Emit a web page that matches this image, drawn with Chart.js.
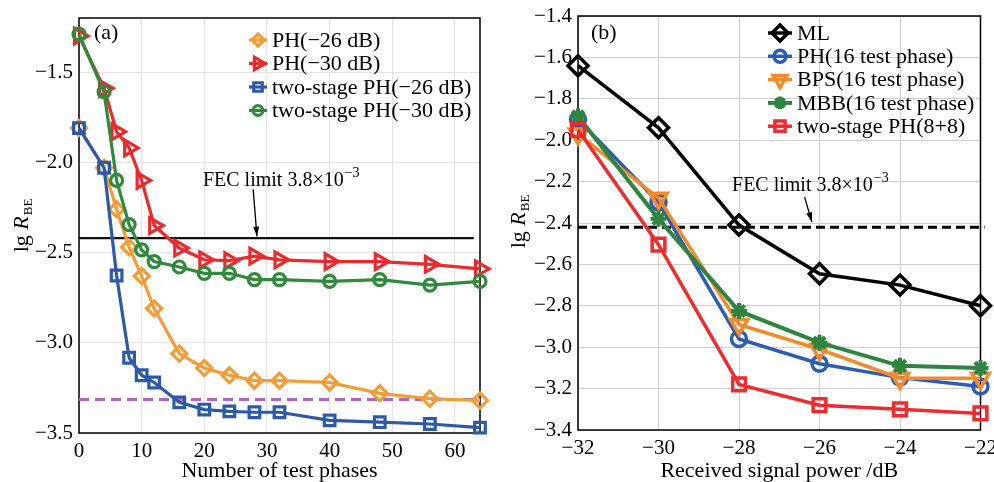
<!DOCTYPE html>
<html>
<head>
<meta charset="utf-8">
<script src="https://cdn.jsdelivr.net/npm/chart.js@4.4.0/dist/chart.umd.min.js"></script>
<style>
  body { margin: 0; background: #fff; }
  #wrapA { position: absolute; left: 0; top: 0; }
  #wrapB { position: absolute; left: 494px; top: 0; }
</style>
</head>
<body>
<div id="wrapA"><canvas id="chartA" width="494" height="482"></canvas></div>
<div id="wrapB"><canvas id="chartB" width="500" height="482"></canvas></div>
<script>
const FONT = "'Liberation Serif', 'Times New Roman', serif";

// ---- panel (a) data ----
const phasesA = [0, 4, 6, 8, 10, 12, 16, 20, 24, 28, 32, 40, 48, 56, 64];
const ph26 = [-1.81, -2.03, -2.26, -2.47, -2.63, -2.81, -3.06, -3.14, -3.18, -3.21, -3.21, -3.22, -3.28, -3.31, -3.32];
const ph30 = [-1.30, -1.59, -1.83, -1.92, -2.10, -2.35, -2.475, -2.54, -2.545, -2.52, -2.54, -2.55, -2.55, -2.565, -2.59];
const twoStage26 = [-1.81, -2.03, -2.627, -3.083, -3.18, -3.22, -3.33, -3.37, -3.38, -3.385, -3.385, -3.43, -3.44, -3.45, -3.47];
const twoStage30 = [-1.29, -1.61, -2.10, -2.345, -2.485, -2.55, -2.58, -2.615, -2.615, -2.65, -2.65, -2.66, -2.65, -2.68, -2.66];
const fecLimitA = -2.42;
const fecSpanA = [0, 63];
const purpleLevel = -3.315;
const purpleSpan = [0, 64];
const xTicksA = [0, 10, 20, 30, 40, 50, 60];
const yTicksA = [-3.5, -3.0, -2.5, -2.0, -1.5];

// ---- panel (b) data ----
const powerB = [-32, -30, -28, -26, -24, -22];
const mlB = [-1.64, -1.94, -2.41, -2.645, -2.70, -2.80];
const phB = [-1.90, -2.30, -2.96, -3.08, -3.147, -3.19];
const bpsB = [-1.97, -2.28, -2.89, -3.01, -3.15, -3.15];
const mbbB = [-1.885, -2.38, -2.825, -2.978, -3.09, -3.10];
const twoStageB = [-1.95, -2.505, -3.18, -3.28, -3.30, -3.32];
const fecLimitB = -2.42;
const fecSpanB = [-32, -21.9];
const xTicksB = [-32, -30, -28, -26, -24, -22];
const yTicksB = [-3.4, -3.2, -3.0, -2.8, -2.6, -2.4, -2.2, -2.0, -1.8, -1.6, -1.4];

const pts = (xs, ys) => xs.map((x, i) => ({ x: x, y: ys[i] }));
const minus = s => String(s).replace('-', '\u2212');

function series(label, xs, ys, color, style, radius, rot, order, lw) {
    return {
        label: label,
        data: pts(xs, ys),
        borderColor: color,
        backgroundColor: color,
        borderWidth: lw,
        pointStyle: style,
        pointRadius: radius,
        pointRotation: rot,
        pointBorderWidth: lw,
        pointBorderColor: color,
        pointBackgroundColor: 'rgba(255,255,255,0)',
        tension: 0,
        clip: false,
        order: order
    };
}

function refLine(xs, level, color, dash, lw) {
    return {
        label: '',
        noLegend: true,
        data: xs.map(x => ({ x: x, y: level })),
        borderColor: color,
        borderWidth: lw,
        borderDash: dash,
        pointRadius: 0,
        clip: false,
        order: 10
    };
}

// legend with line + marker
const lineLegend = {
    id: 'lineLegend',
    afterDraw(chart, args, o) {
        const ctx = chart.ctx;
        const a = chart.chartArea;
        let y = a.top + o.dy;
        ctx.save();
        ctx.font = o.font;
        ctx.textBaseline = 'middle';
        chart.data.datasets.forEach(ds => {
            if (ds.noLegend) return;
            const x0 = a.left + o.dx;
            ctx.setLineDash([]);
            ctx.strokeStyle = ds.borderColor;
            ctx.lineWidth = ds.borderWidth;
            ctx.beginPath();
            ctx.moveTo(x0, y);
            ctx.lineTo(x0 + o.lineLen, y);
            ctx.stroke();
            ctx.fillStyle = 'rgba(255,255,255,0)';
            Chart.helpers.drawPoint(ctx, {
                pointStyle: ds.pointStyle,
                rotation: ds.pointRotation || 0,
                radius: ds.pointRadius * o.scale,
                borderWidth: ds.pointBorderWidth
            }, x0 + o.lineLen / 2, y);
            ctx.fillStyle = '#000';
            ctx.fillText(ds.label.replace('(-', '(\u2212'), x0 + o.lineLen + o.gap, y + 1);
            y += o.step;
        });
        ctx.restore();
    }
};

// frame box, fec label + arrow, panel tag, y title
const decor = {
    id: 'decor',
    beforeDatasetsDraw(chart) {
        const ctx = chart.ctx, a = chart.chartArea;
        ctx.save();
        ctx.strokeStyle = '#000';
        ctx.lineWidth = 1.5;
        ctx.strokeRect(a.left, a.top, a.right - a.left, a.bottom - a.top);
        ctx.restore();
    },
    afterDraw(chart, args, o) {
        const ctx = chart.ctx, a = chart.chartArea;
        const xs = chart.scales.x, ys = chart.scales.y;
        ctx.save();
        ctx.fillStyle = '#000';
        ctx.strokeStyle = '#000';

        // panel tag
        ctx.font = '22px ' + FONT;
        ctx.textBaseline = 'middle';
        ctx.textAlign = 'left';
        ctx.fillText(o.tag, a.left + o.tagDx, a.top + o.tagDy);

        // FEC label
        const main = 'FEC limit 3.8\u00d710';
        const sup = '\u22123';
        ctx.font = '20px ' + FONT;
        const w1 = ctx.measureText(main).width;
        ctx.font = '14px ' + FONT;
        const w2 = ctx.measureText(sup).width;
        const cx = xs.getPixelForValue(o.fec.x), cy = ys.getPixelForValue(o.fec.y);
        const left = cx - (w1 + w2) / 2;
        ctx.textBaseline = 'alphabetic';
        ctx.font = '20px ' + FONT;
        ctx.fillText(main, left, cy + 7);
        ctx.font = '14px ' + FONT;
        ctx.fillText(sup, left + w1 + 1, cy - 2);

        // arrow
        const ax0 = xs.getPixelForValue(o.arrow[0]), ay0 = ys.getPixelForValue(o.arrow[1]);
        const ax1 = xs.getPixelForValue(o.arrow[2]), ay1 = ys.getPixelForValue(o.arrow[3]);
        ctx.lineWidth = 1.3;
        ctx.beginPath();
        ctx.moveTo(ax0, ay0);
        ctx.lineTo(ax1, ay1);
        ctx.stroke();
        const ang = Math.atan2(ay1 - ay0, ax1 - ax0);
        ctx.beginPath();
        ctx.moveTo(ax1, ay1);
        ctx.lineTo(ax1 - 10 * Math.cos(ang - 0.3), ay1 - 10 * Math.sin(ang - 0.3));
        ctx.lineTo(ax1 - 10 * Math.cos(ang + 0.3), ay1 - 10 * Math.sin(ang + 0.3));
        ctx.closePath();
        ctx.fill();

        // y axis title: lg R_BE
        ctx.translate(o.yTitle[0], o.yTitle[1]);
        ctx.rotate(-Math.PI / 2);
        ctx.textBaseline = 'middle';
        ctx.font = '22px ' + FONT;
        const t1 = 'lg ';
        const m1 = ctx.measureText(t1).width;
        ctx.font = 'italic 22px ' + FONT;
        const m2 = ctx.measureText('R').width;
        ctx.font = '13px ' + FONT;
        const m3 = ctx.measureText('BE').width;
        let x = -(m1 + m2 + m3) / 2;
        ctx.font = '22px ' + FONT;
        ctx.fillText(t1, x, 0);
        x += m1;
        ctx.font = 'italic 22px ' + FONT;
        ctx.fillText('R', x, 0);
        x += m2 + 1;
        ctx.font = '13px ' + FONT;
        ctx.fillText('BE', x, 7);
        ctx.restore();
    }
};

function axes(xMin, xMax, yMin, yMax, xTicks, yTicks, yWidth, xHeight, xTitle, yDec, gridColor) {
    return {
        x: {
            type: 'linear',
            min: xMin, max: xMax,
            afterBuildTicks: s => { s.ticks = xTicks.map(v => ({ value: v })); },
            afterFit: s => { s.height = xHeight; s.paddingLeft = 0; s.paddingRight = 0; },
            grid: { color: gridColor, lineWidth: 1, drawTicks: false },
            border: { display: false },
            ticks: {
                color: '#000', padding: 6,
                font: { family: FONT, size: 21 },
                maxRotation: 0,
                callback: v => minus(v)
            },
            title: {
                display: true, text: xTitle, color: '#000',
                font: { family: FONT, size: 22, lineHeight: 1 },
                padding: { top: 0, bottom: 0 }
            }
        },
        y: {
            type: 'linear',
            min: yMin, max: yMax,
            afterBuildTicks: s => { s.ticks = yTicks.map(v => ({ value: v })); },
            afterFit: s => { s.width = yWidth; s.paddingTop = 0; s.paddingBottom = 0; },
            grid: { color: gridColor, lineWidth: 1, drawTicks: false },
            border: { display: false },
            ticks: {
                color: '#000', padding: 6,
                font: { family: FONT, size: 21 },
                callback: v => minus(v.toFixed(yDec))
            }
        }
    };
}

// ---- chart (a) ----
new Chart(document.getElementById('chartA').getContext('2d'), {
    type: 'line',
    data: {
        datasets: [
            series('PH(-26 dB)', phasesA, ph26, '#f59c34', 'rectRot', 7.5, 0, 4, 3.2),
            series('PH(-30 dB)', phasesA, ph30, '#ea2a2c', 'triangle', 9, 90, 3, 3.2),
            series('two-stage PH(-26 dB)', phasesA, twoStage26, '#2c5aa8', 'rect', 7.5, 0, 1, 3.2),
            series('two-stage PH(-30 dB)', phasesA, twoStage30, '#2f8a3c', 'circle', 6, 0, 2, 3.2),
            refLine(fecSpanA, fecLimitA, '#111', [], 2.4),
            refLine(purpleSpan, purpleLevel, '#b363c4', [10, 6], 3)
        ]
    },
    options: {
        responsive: false,
        animation: false,
        layout: { padding: { left: 0, top: 18, right: 14, bottom: 0 } },
        plugins: {
            legend: { display: false },
            tooltip: { enabled: false },
            lineLegend: { dx: 170, dy: 22, step: 23.5, lineLen: 18, gap: 5, font: '22px ' + FONT, scale: 0.8 },
            decor: {
                tag: '(a)', tagDx: 15, tagDy: 15,
                fec: { x: 32.2, y: -2.09 },
                arrow: [27.8, -2.15, 28.4, -2.41],
                yTitle: [22, 226]
            }
        },
        scales: axes(0, 64, -3.5, -1.2, xTicksA, yTicksA, 79, 49, 'Number of test phases', 1, '#e4e4e4')
    },
    plugins: [lineLegend, decor]
});

// ---- chart (b) ----
new Chart(document.getElementById('chartB').getContext('2d'), {
    type: 'line',
    data: {
        datasets: [
            series('ML', powerB, mlB, '#000000', 'rectRot', 10, 0, 0, 3.5),
            series('PH(16 test phase)', powerB, phB, '#2c5cb3', 'circle', 7.5, 0, 4, 3.5),
            series('BPS(16 test phase)', powerB, bpsB, '#f38a2c', 'triangle', 10, 180, 3, 3.5),
            series('MBB(16 test phase)', powerB, mbbB, '#2e8540', 'star', 8, 0, 2, 4),
            series('two-stage PH(8+8)', powerB, twoStageB, '#ee2b2e', 'rect', 9, 0, 1, 3.5),
            refLine(fecSpanB, fecLimitB, '#000', [9, 5], 3)
        ]
    },
    options: {
        responsive: false,
        animation: false,
        layout: { padding: { left: 0, top: 16, right: 13, bottom: 0 } },
        plugins: {
            legend: { display: false },
            tooltip: { enabled: false },
            lineLegend: { dx: 190, dy: 17, step: 23.3, lineLen: 24, gap: 5, font: '22px ' + FONT, scale: 0.8 },
            decor: {
                tag: '(b)', tagDx: 13, tagDy: 17,
                fec: { x: -26.24, y: -2.21 },
                arrow: [-26.37, -2.275, -26.19, -2.395],
                yTitle: [25, 222]
            }
        },
        scales: axes(-32, -22, -3.4, -1.4, xTicksB, yTicksB, 84, 52, 'Received signal power /dB', 1, '#cfcfcf')
    },
    plugins: [lineLegend, decor]
});
</script>
</body>
</html>
